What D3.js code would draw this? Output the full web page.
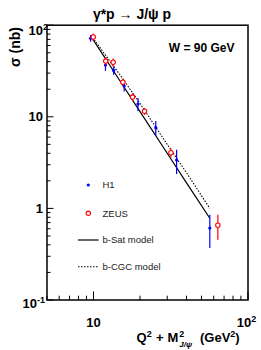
<!DOCTYPE html>
<html><head><meta charset="utf-8">
<script src="https://cdn.jsdelivr.net/npm/d3@7"></script>
<style>
html,body{margin:0;padding:0;background:#fff;}
text{font-family:"Liberation Sans",Arial,Helvetica,sans-serif;}
</style></head>
<body><svg id="c" width="261" height="350"></svg>
<script>
// ---- data ----
const h1X   = [9.57, 11.95, 13.5, 15.8, 19.4, 25.3, 34.5, 56.6];
const h1Y   = [72, 36.7, 32.0, 21.7, 13.8, 7.6, 3.37, 0.61];
const h1Err = [6, 5, 3.3, 2.8, 2.2, 1.4, 1.0, 0.24];
const zeusX   = [9.96, 12.0, 13.4, 15.5, 17.9, 21.4, 31.7, 63.8];
const zeusY   = [74.3, 40.6, 39.4, 23.9, 16.4, 11.5, 4.05, 0.655];
const zeusErr = [7, 4, 4, 2, 1.6, 1.0, 0.45, 0.2];
const bSatX = [9.6, 15, 20, 30, 40, 56.6];
const bSatY = [76, 24, 11.4, 4.0, 1.9, 0.78];
const bCgcX = [9.6, 15, 20, 30, 40, 56.6];
const bCgcY = [78, 28, 14, 5.0, 2.45, 1.0];
const yTickVals = [0.1, 1, 10, 100];
const yTickBase = ["10", "1", "10", "10"];
const yTickExp  = ["-1", "", "", "2"];
const xTickVals = [10, 100];
const xTickBase = ["10", "10"];
const xTickExp  = ["", "2"];
const legendLabels = ["H1", "ZEUS", "b-Sat model", "b-CGC model"];

// ---- layout ----
const svg = d3.select("#c");
const L = 47, R = 248, T = 25.2, B = 300;
const x = d3.scaleLog().domain([5, 100]).range([L, R]);
const y = d3.scaleLog().domain([0.1, 100]).range([B, T]);
const isMajor = d => Math.abs(Math.log10(d) - Math.round(Math.log10(d))) < 1e-9;

const g = svg.append("g");
// x ticks
const xMinor = [];
for (let d = 1; d <= 10; d *= 10) for (let k = 1; k < 10; k++) { const v = k * d; if (v >= 5 && v <= 100) xMinor.push(v); }
xMinor.push(100);
g.selectAll(".xt").data(xMinor).join("line")
  .attr("x1", d => x(d)).attr("x2", d => x(d))
  .attr("y1", B).attr("y2", d => B - (isMajor(d) ? 8.5 : 4.3))
  .attr("stroke", "#000").attr("stroke-width", 1);
// y ticks
const yMinor = [];
for (let d = 0.1; d < 100; d *= 10) for (let k = 1; k < 10; k++) yMinor.push(k * d);
yMinor.push(100);
g.selectAll(".yt").data(yMinor).join("line")
  .attr("y1", d => y(d)).attr("y2", d => y(d))
  .attr("x1", L).attr("x2", d => L + (isMajor(d) ? 6.5 : 3.5))
  .attr("stroke", "#000").attr("stroke-width", 1);

// frame
svg.append("rect").attr("x", L).attr("y", T).attr("width", R - L).attr("height", B - T)
  .attr("fill", "none").attr("stroke", "#000").attr("stroke-width", 1.5);

// y tick labels
yTickVals.forEach((v, i) => {
  const py = y(v);
  const off = (i === yTickVals.length - 1) ? 10 : (i === 0 ? 7.5 : 4.3);
  const t = svg.append("text").attr("y", py + off)
    .attr("font-size", 13).attr("font-weight", "bold").attr("text-anchor", "end");
  if (yTickExp[i]) {
    t.attr("x", L + (yTickExp[i].length > 1 ? -2 : 1));
    t.append("tspan").text(yTickBase[i]);
    t.append("tspan").attr("dy", -5).attr("font-size", 9).text(yTickExp[i]);
  } else {
    t.attr("x", L - 4).text(yTickBase[i]);
  }
});
// x tick labels
xTickVals.forEach((v, i) => {
  const t = svg.append("text").attr("x", x(v) - (xTickExp[i] ? 1.5 : 0)).attr("y", 326.5)
    .attr("font-size", 13).attr("font-weight", "bold").attr("text-anchor", "middle");
  t.append("tspan").text(xTickBase[i]);
  if (xTickExp[i]) t.append("tspan").attr("dy", -5).attr("font-size", 9).text(xTickExp[i]);
});

// model curves
const line = d3.line().x(d => x(d[0])).y(d => y(d[1]));
svg.append("path").datum(bSatX.map((v, i) => [v, bSatY[i]])).attr("d", line)
  .attr("fill", "none").attr("stroke", "#000").attr("stroke-width", 1.2);
svg.append("path").datum(bCgcX.map((v, i) => [v, bCgcY[i]])).attr("d", line)
  .attr("fill", "none").attr("stroke", "#000").attr("stroke-width", 1.1).attr("stroke-dasharray", "1.5,1.5");

// data points
function drawSeries(xs, ys, es, color, open) {
  const gg = svg.append("g");
  xs.forEach((v, i) => {
    gg.append("line").attr("x1", x(v)).attr("x2", x(v))
      .attr("y1", y(ys[i] + es[i])).attr("y2", y(Math.max(ys[i] - es[i], 0.11)))
      .attr("stroke", color).attr("stroke-width", 1.2);
    if (open) {
      gg.append("circle").attr("cx", x(v)).attr("cy", y(ys[i])).attr("r", 2.2)
        .attr("fill", "#fff").attr("stroke", color).attr("stroke-width", 1.1);
    } else {
      gg.append("circle").attr("cx", x(v)).attr("cy", y(ys[i])).attr("r", 1.6).attr("fill", color);
    }
  });
}
drawSeries(h1X, h1Y, h1Err, "#0000ff", false);
drawSeries(zeusX, zeusY, zeusErr, "#ff0000", true);

// legend
const lg = svg.append("g");
const ly = [185, 213.3, 240, 266.7];
lg.append("circle").attr("cx", 88.3).attr("cy", ly[0]).attr("r", 1.6).attr("fill", "#0000ff");
lg.append("circle").attr("cx", 88.3).attr("cy", ly[1]).attr("r", 2.2).attr("fill", "#fff").attr("stroke", "#ff0000").attr("stroke-width", 1.1);
lg.append("line").attr("x1", 78).attr("x2", 98.5).attr("y1", ly[2]).attr("y2", ly[2]).attr("stroke", "#000").attr("stroke-width", 1.2);
lg.append("line").attr("x1", 78).attr("x2", 98.5).attr("y1", ly[3]).attr("y2", ly[3]).attr("stroke", "#000").attr("stroke-width", 1.1).attr("stroke-dasharray", "1.5,1.5");
legendLabels.forEach((s, i) => {
  lg.append("text").attr("x", 102.5).attr("y", ly[i] + 3.4).attr("font-size", 9.5).attr("fill", "#222").text(s);
});

// annotation
svg.append("text").attr("x", 234.5).attr("y", 51.7).attr("text-anchor", "end")
  .attr("font-size", 12).attr("font-weight", "bold").text("W = 90 GeV");

// title
svg.append("text").attr("x", 132).attr("y", 18.5).attr("text-anchor", "middle")
  .attr("font-size", 14).attr("font-weight", "bold").text("γ*p → J/ψ p");

// y label
svg.append("text").attr("transform", "translate(20,27) rotate(-90)").attr("text-anchor", "end")
  .attr("font-size", 14).attr("font-weight", "bold").text("σ  (nb)");

// x label
const xlY = 342;
const xl = svg.append("text").attr("y", xlY).attr("font-size", 13).attr("font-weight", "bold");
xl.append("tspan").attr("x", 136.5).text("Q");
xl.append("tspan").attr("dy", -5).attr("font-size", 9).text("2");
xl.append("tspan").attr("x", 156).attr("y", xlY).text("+");
xl.append("tspan").attr("x", 167.5).text("M");
xl.append("tspan").attr("x", 179.3).attr("y", xlY - 5).attr("font-size", 9).text("2");
xl.append("tspan").attr("x", 179.3).attr("y", xlY + 5).attr("font-size", 8).attr("font-style", "italic").text("J/ψ");
xl.append("tspan").attr("x", 200).attr("y", xlY).text("(GeV");
xl.append("tspan").attr("dy", -5).attr("font-size", 9).text("2");
xl.append("tspan").attr("dy", 5).text(")");
</script></body></html>
